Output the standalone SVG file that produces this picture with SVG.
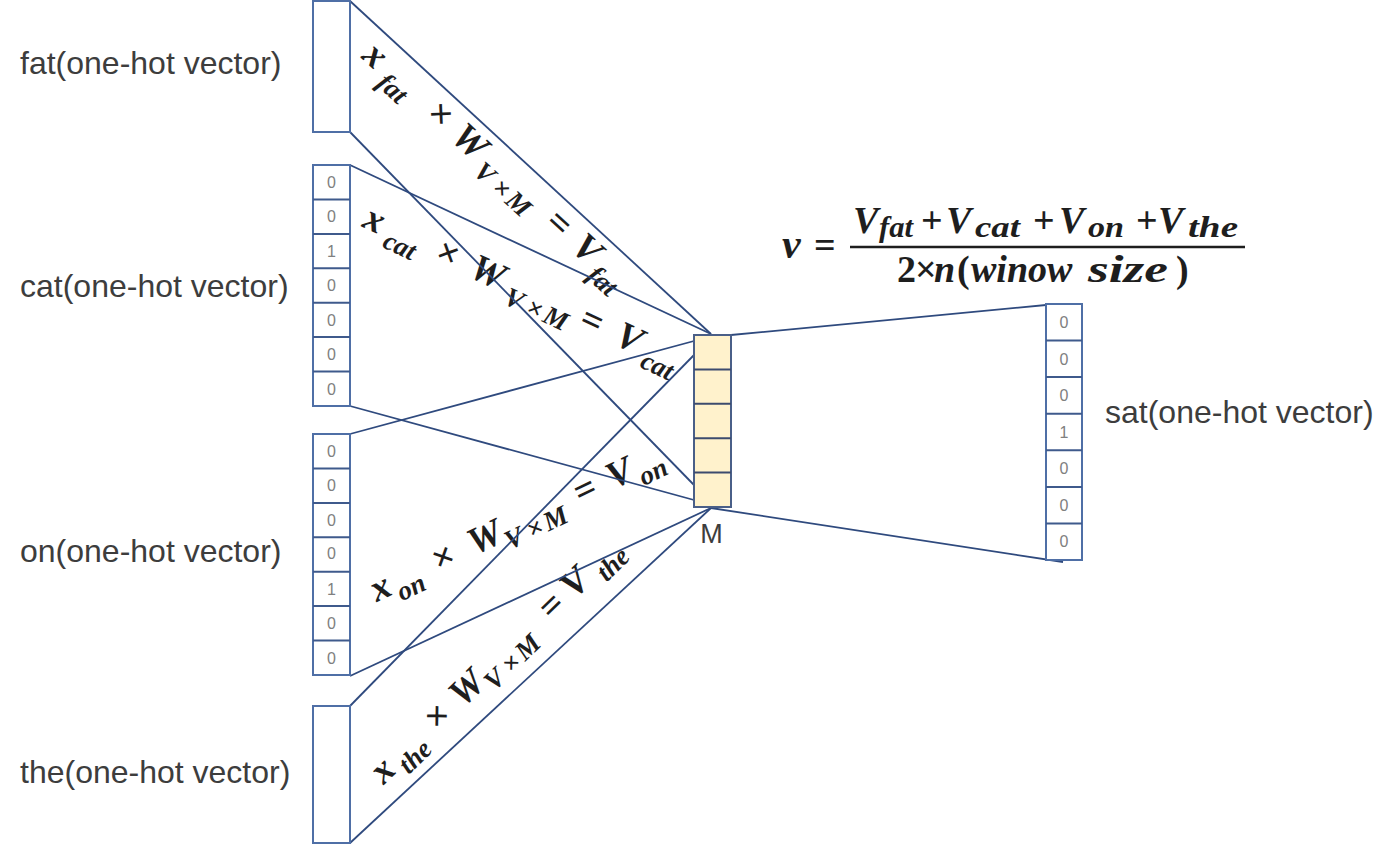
<svg xmlns="http://www.w3.org/2000/svg" width="1388" height="864" viewBox="0 0 1388 864">
<style>
.vec{fill:#ffffff;stroke:#4f6fa6;stroke-width:2}
.cell{stroke:#3f5a8c;stroke-width:2}
.num{font-family:"Liberation Sans",Arial,sans-serif;font-size:16px;fill:#808080;text-anchor:middle}
.lbl{font-family:"Liberation Sans",Arial,sans-serif;font-size:32px;fill:#3d3d3d}
.conn line{stroke:#2f4a7e;stroke-width:1.8}
.eq{font-family:"Liberation Serif","Times New Roman",serif;font-weight:bold;font-style:italic;fill:#1e1e1e;text-anchor:middle;font-size:38px}
.eq .s{font-size:27px}
.eq .u{font-style:normal}
.fm{font-family:"Liberation Serif","Times New Roman",serif;font-weight:bold;font-style:italic;fill:#1e1e1e;font-size:38px}
.fm .s{font-size:29px}
.fm .u{font-style:normal}
</style>
<rect width="1388" height="864" fill="#ffffff"/>

<!-- labels -->
<g id="labels">
<text class="lbl" x="20" y="74">fat(one-hot vector)</text>
<text class="lbl" x="20" y="297">cat(one-hot vector)</text>
<text class="lbl" x="20" y="562">on(one-hot vector)</text>
<text class="lbl" x="20" y="783">the(one-hot vector)</text>
<text class="lbl" x="1105" y="423">sat(one-hot vector)</text>
</g>

<!-- equations along bands -->
<g id="eq-fat">
<text class="eq" transform="translate(367.6,63.9) rotate(42.5)"><tspan x="0" y="0">x</tspan><tspan class="s" x="35" y="10">fat</tspan><tspan class="u" x="88" y="0">×</tspan><tspan x="128" y="0">W</tspan><tspan class="s" x="160 183 206" y="10">V×M</tspan><tspan class="u" x="249" y="0">=</tspan><tspan x="287" y="0">V</tspan><tspan class="s" x="320" y="10">fat</tspan></text>
</g>
<g id="eq-cat">
<text class="eq" transform="translate(369.6,230.2) rotate(25)"><tspan x="0" y="0">x</tspan><tspan class="s" x="34" y="10">cat</tspan><tspan class="u" x="81" y="0">×</tspan><tspan x="125" y="0">W</tspan><tspan class="s" x="160 183 206" y="10">V×M</tspan><tspan class="u" x="240" y="0">=</tspan><tspan x="281" y="0">V</tspan><tspan class="s" x="318" y="10">cat</tspan></text>
</g>
<g id="eq-on">
<text class="eq" transform="translate(385.4,598.2) rotate(-25.5)"><tspan x="0" y="0">x</tspan><tspan class="s" x="28" y="10">on</tspan><tspan class="u" x="70" y="0">×</tspan><tspan x="116" y="0">W</tspan><tspan class="s" x="142 165 188" y="10">V×M</tspan><tspan class="u" x="227" y="0">=</tspan><tspan x="265" y="0">V</tspan><tspan class="s" x="296" y="10">on</tspan></text>
</g>
<g id="eq-the">
<text class="eq" transform="translate(390.6,778.7) rotate(-44.2)"><tspan x="0" y="0">x</tspan><tspan class="s" x="33" y="10">the</tspan><tspan class="u" x="77" y="0">×</tspan><tspan x="118" y="0">W</tspan><tspan class="s" x="144 167 190" y="10">V×M</tspan><tspan class="u" x="236" y="0">=</tspan><tspan x="269" y="0">V</tspan><tspan class="s" x="309" y="10">the</tspan></text>
</g>

<!-- formula -->
<g id="formula">
<text class="fm"><tspan x="782" y="258" font-size="42">v</tspan><tspan class="u" x="814" y="258">=</tspan></text>
<line x1="850" y1="247" x2="1245" y2="247" stroke="#1e1e1e" stroke-width="2.5"/>
<text class="fm"><tspan x="853" y="233">V</tspan><tspan class="s" x="879" y="237" textLength="34" lengthAdjust="spacingAndGlyphs">fat</tspan><tspan class="u" x="921" y="233">+</tspan><tspan x="946" y="233">V</tspan><tspan class="s" x="975" y="237" textLength="45" lengthAdjust="spacingAndGlyphs">cat</tspan><tspan class="u" x="1033" y="233">+</tspan><tspan x="1059" y="233">V</tspan><tspan class="s" x="1088" y="237" textLength="36" lengthAdjust="spacingAndGlyphs">on</tspan><tspan class="u" x="1136" y="233">+</tspan><tspan x="1158" y="233">V</tspan><tspan class="s" x="1188" y="237" textLength="50" lengthAdjust="spacingAndGlyphs">the</tspan></text>
<text class="fm"><tspan class="u" x="897" y="282">2</tspan><tspan class="u" x="915" y="282">×</tspan><tspan x="934" y="282">n</tspan><tspan class="u" x="957" y="282">(</tspan><tspan x="971" y="282">winow</tspan><tspan x="1088" y="282" textLength="80" lengthAdjust="spacingAndGlyphs">size</tspan><tspan class="u" x="1176" y="282">)</tspan></text>
</g>

<!-- connectors -->
<g id="connectors" class="conn">
<line x1="350" y1="1" x2="711" y2="334"/>
<line x1="350" y1="165" x2="711" y2="334"/>
<line x1="350" y1="132" x2="694" y2="485"/>
<line x1="350" y1="406" x2="694" y2="500"/>
<line x1="350" y1="434" x2="694" y2="341"/>
<line x1="350" y1="706" x2="694" y2="355"/>
<line x1="350" y1="676" x2="711" y2="508"/>
<line x1="350" y1="843" x2="711" y2="508"/>
<line x1="731" y1="335" x2="1046" y2="305"/>
<line x1="711" y1="508" x2="1063" y2="562"/>
</g>

<!-- fat -->
<g id="node-fat">
<rect class="vec" x="313" y="1" width="37" height="131"/>
</g>

<!-- cat -->
<g id="node-cat">
<rect class="vec" x="313" y="165" width="37" height="241"/>
<g class="cell">
<line x1="313" y1="199.4" x2="350" y2="199.4"/>
<line x1="313" y1="233.9" x2="350" y2="233.9"/>
<line x1="313" y1="268.3" x2="350" y2="268.3"/>
<line x1="313" y1="302.7" x2="350" y2="302.7"/>
<line x1="313" y1="337.1" x2="350" y2="337.1"/>
<line x1="313" y1="371.6" x2="350" y2="371.6"/>
</g>
<text class="num" x="331.5" y="188">0</text>
<text class="num" x="331.5" y="222.4">0</text>
<text class="num" x="331.5" y="256.9">1</text>
<text class="num" x="331.5" y="291.3">0</text>
<text class="num" x="331.5" y="325.7">0</text>
<text class="num" x="331.5" y="360.2">0</text>
<text class="num" x="331.5" y="394.6">0</text>
</g>

<!-- on -->
<g id="node-on">
<rect class="vec" x="313" y="434" width="37" height="241"/>
<g class="cell">
<line x1="313" y1="468.4" x2="350" y2="468.4"/>
<line x1="313" y1="502.9" x2="350" y2="502.9"/>
<line x1="313" y1="537.3" x2="350" y2="537.3"/>
<line x1="313" y1="571.7" x2="350" y2="571.7"/>
<line x1="313" y1="606.1" x2="350" y2="606.1"/>
<line x1="313" y1="640.6" x2="350" y2="640.6"/>
</g>
<text class="num" x="331.5" y="457">0</text>
<text class="num" x="331.5" y="491.4">0</text>
<text class="num" x="331.5" y="525.9">0</text>
<text class="num" x="331.5" y="559.3" font-size="13">0</text>
<text class="num" x="331.5" y="594.7">1</text>
<text class="num" x="331.5" y="629.2">0</text>
<text class="num" x="331.5" y="663.6">0</text>
</g>

<!-- the -->
<g id="node-the">
<rect class="vec" x="313" y="706" width="37" height="137"/>
</g>

<!-- M -->
<g id="node-M">
<rect x="694" y="335" width="37" height="172" fill="#fff2cc" stroke="#4a5f88" stroke-width="2"/>
<g stroke="#3c4b6e" stroke-width="2">
<line x1="694" y1="369.4" x2="731" y2="369.4"/>
<line x1="694" y1="403.8" x2="731" y2="403.8"/>
<line x1="694" y1="438.2" x2="731" y2="438.2"/>
<line x1="694" y1="472.6" x2="731" y2="472.6"/>
</g>
<text x="711.5" y="543" font-family="Liberation Sans,Arial,sans-serif" font-size="27" fill="#3d3d3d" text-anchor="middle">M</text>
</g>

<!-- sat -->
<g id="node-sat">
<rect class="vec" x="1046" y="304" width="36" height="256"/>
<g class="cell">
<line x1="1046" y1="340.6" x2="1082" y2="340.6"/>
<line x1="1046" y1="377.1" x2="1082" y2="377.1"/>
<line x1="1046" y1="413.7" x2="1082" y2="413.7"/>
<line x1="1046" y1="450.3" x2="1082" y2="450.3"/>
<line x1="1046" y1="486.9" x2="1082" y2="486.9"/>
<line x1="1046" y1="523.4" x2="1082" y2="523.4"/>
</g>
<text class="num" x="1064" y="328">0</text>
<text class="num" x="1064" y="364.6">0</text>
<text class="num" x="1064" y="401.1">0</text>
<text class="num" x="1064" y="437.7">1</text>
<text class="num" x="1064" y="474.3">0</text>
<text class="num" x="1064" y="510.9">0</text>
<text class="num" x="1064" y="547.4">0</text>
</g>
</svg>
